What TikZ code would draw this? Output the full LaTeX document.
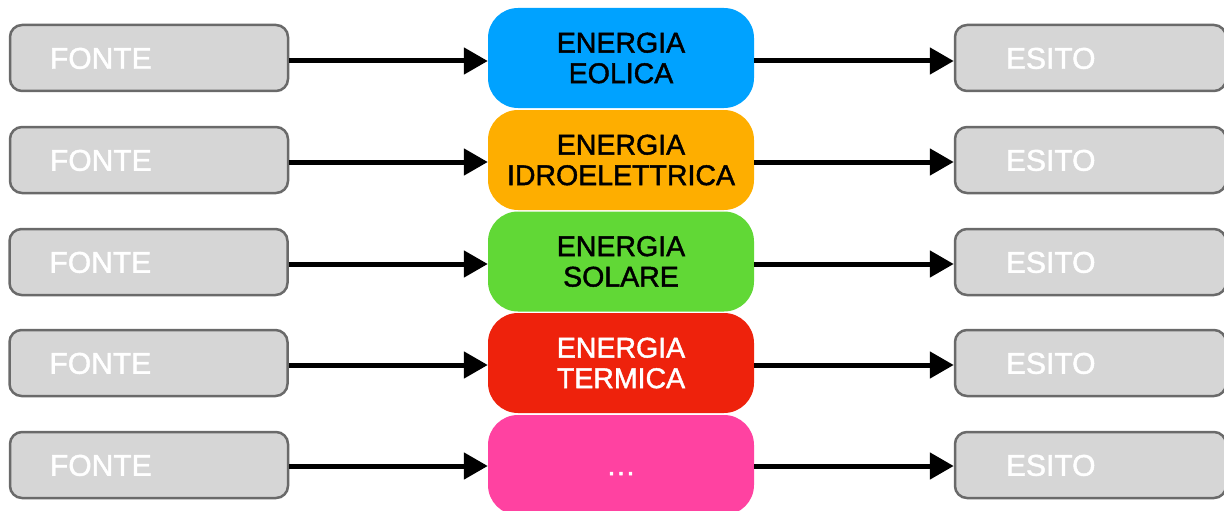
\documentclass[tikz,border=0pt]{standalone}
\usepackage{fontspec}
\setmainfont{Liberation Sans}[RawFeature={embolden=1.5}]
\usetikzlibrary{arrows.meta}
\definecolor{eblue}{HTML}{00A2FF}
\definecolor{eorange}{HTML}{FEAE00}
\definecolor{egreen}{HTML}{61D836}
\definecolor{ered}{HTML}{EE220C}
\definecolor{epink}{HTML}{FF42A1}
\definecolor{gfill}{HTML}{D6D6D6}
\definecolor{gline}{HTML}{6A6A6A}
\tikzset{
  graybox/.style={draw=gline, line width=2.5pt, fill=gfill, rounded corners=12pt,
    minimum height=66pt, text=white, font=\fontsize{30}{32}\selectfont,
    text height=21.5pt, text depth=0pt, align=left},
  srcbox/.style={graybox, minimum width=278pt, inner xsep=40pt, text width=198pt},
  outbox/.style={graybox, minimum width=271pt, inner xsep=51pt, text width=169pt},
  energybox/.style={rounded corners=30pt, minimum width=266pt, minimum height=100pt,
    align=center, inner sep=0pt, font=\fontsize{28.5}{30.5}\selectfont},
  flow/.style={line width=5pt, -{Triangle[length=24pt,width=26pt]}}
}
\begin{document}
\begin{tikzpicture}[x=1pt,y=-1pt]
\useasboundingbox (0,0) rectangle (1224,511);
% left source boxes
\node[srcbox] (f1) at (149,58) {FONTE};
\node[srcbox] (f2) at (149,160) {FONTE};
\node[srcbox] (f3) at (148.5,262) {FONTE};
\node[srcbox] (f4) at (148.5,363) {FONTE};
\node[srcbox] (f5) at (149,465) {FONTE};
% center energy boxes
\node[energybox, fill=eblue, text=black] (e1) at (621,58) {ENERGIA\\EOLICA};
\node[energybox, fill=eorange, text=black] (e2) at (621,160) {ENERGIA\\IDROELETTRICA};
\node[energybox, fill=egreen, text=black] (e3) at (621,261.5) {ENERGIA\\SOLARE};
\node[energybox, fill=ered, text=white] (e4) at (621,363) {ENERGIA\\TERMICA};
\node[energybox, fill=epink, text=white, text height=20.4pt, text depth=0pt,
  font=\fontsize{30}{32}\selectfont] (e5) at (621,465) {…};
% right outcome boxes
\node[outbox] (o1) at (1090.5,58) {ESITO};
\node[outbox] (o2) at (1090.5,160) {ESITO};
\node[outbox] (o3) at (1090.5,262) {ESITO};
\node[outbox] (o4) at (1090.5,363) {ESITO};
\node[outbox] (o5) at (1090.5,465) {ESITO};
% connectors
\foreach \i/\y in {1/61,2/162,3/264,4/365,5/466}{
  \draw[flow] (f\i.east |- 0,\y) -- (e\i.west |- 0,\y);
  \draw[flow] (e\i.east |- 0,\y) -- (o\i.west |- 0,\y);
}
\end{tikzpicture}
\end{document}
